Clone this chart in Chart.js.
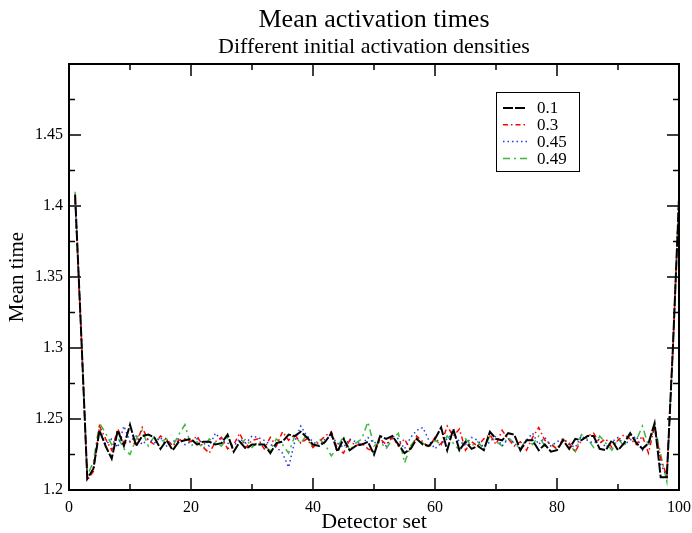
<!DOCTYPE html>
<html>
<head>
<meta charset="utf-8">
<script src="https://cdn.jsdelivr.net/npm/chart.js@4.4.1/dist/chart.umd.min.js"></script>
<style>
  html, body { margin: 0; padding: 0; background: #fff; }
  #wrap { width: 692px; height: 533px; }
</style>
</head>
<body>
<div id="wrap"><canvas id="chart" width="692" height="533"></canvas></div>
<script>
// detector sets 1..100
const detectorSet = Array.from({ length: 100 }, (_, i) => i + 1);

const seriesLabels = ["0.1", "0.3", "0.45", "0.49"];

// mean activation time per detector set
const density01 = [
    1.408, 1.31, 1.208, 1.215, 1.242, 1.231, 1.222, 1.242, 1.231, 1.246,
    1.231, 1.238, 1.239, 1.237, 1.229, 1.235, 1.228, 1.234, 1.235, 1.236,
    1.232, 1.234, 1.234, 1.232, 1.233, 1.239, 1.227, 1.234, 1.229, 1.232,
    1.232, 1.232, 1.226, 1.233, 1.234, 1.239, 1.238, 1.241, 1.237, 1.232,
    1.231, 1.234, 1.240, 1.227, 1.236, 1.228, 1.231, 1.232, 1.234, 1.225,
    1.238, 1.236, 1.238, 1.232, 1.226, 1.229, 1.236, 1.232, 1.231, 1.236,
    1.244, 1.228, 1.243, 1.228, 1.234, 1.229, 1.231, 1.228, 1.241, 1.236,
    1.235, 1.240, 1.239, 1.228, 1.235, 1.235, 1.228, 1.232, 1.227, 1.228,
    1.235, 1.229, 1.236, 1.235, 1.238, 1.238, 1.229, 1.228, 1.235, 1.228,
    1.233, 1.240, 1.233, 1.229, 1.233, 1.247, 1.209, 1.209, 1.30, 1.405
];
const density03 = [
    1.405, 1.31, 1.207, 1.213, 1.245, 1.236, 1.228, 1.243, 1.233, 1.234,
    1.232, 1.244, 1.235, 1.232, 1.238, 1.236, 1.231, 1.235, 1.236, 1.234,
    1.238, 1.230, 1.226, 1.234, 1.237, 1.229, 1.232, 1.240, 1.230, 1.235,
    1.236, 1.229, 1.237, 1.231, 1.241, 1.235, 1.239, 1.233, 1.236, 1.230,
    1.234, 1.238, 1.241, 1.229, 1.226, 1.235, 1.231, 1.233, 1.229, 1.227,
    1.236, 1.232, 1.237, 1.231, 1.236, 1.228, 1.238, 1.234, 1.230, 1.237,
    1.232, 1.245, 1.238, 1.243, 1.228, 1.234, 1.231, 1.236, 1.239, 1.232,
    1.242, 1.236, 1.231, 1.234, 1.228, 1.237, 1.244, 1.235, 1.232, 1.229,
    1.236, 1.233, 1.227, 1.235, 1.238, 1.240, 1.233, 1.236, 1.230, 1.235,
    1.239, 1.236, 1.232, 1.238, 1.226, 1.245, 1.222, 1.210, 1.30, 1.405
];
const density045 = [
    1.405, 1.31, 1.208, 1.215, 1.243, 1.232, 1.236, 1.230, 1.245, 1.234,
    1.238, 1.232, 1.236, 1.233, 1.237, 1.231, 1.234, 1.236, 1.232, 1.234,
    1.236, 1.233, 1.231, 1.240, 1.235, 1.233, 1.231, 1.236, 1.233, 1.238,
    1.237, 1.235, 1.232, 1.230, 1.226, 1.216, 1.234, 1.245, 1.238, 1.234,
    1.231, 1.236, 1.238, 1.233, 1.230, 1.236, 1.234, 1.232, 1.237, 1.233,
    1.235, 1.231, 1.238, 1.236, 1.229, 1.237, 1.242, 1.244, 1.235, 1.229,
    1.233, 1.236, 1.240, 1.234, 1.232, 1.237, 1.235, 1.230, 1.234, 1.238,
    1.231, 1.236, 1.233, 1.229, 1.235, 1.240, 1.232, 1.237, 1.231, 1.234,
    1.236, 1.232, 1.230, 1.238, 1.235, 1.233, 1.236, 1.230, 1.234, 1.237,
    1.232, 1.235, 1.238, 1.228, 1.233, 1.244, 1.218, 1.210, 1.30, 1.405
];
const density049 = [
    1.41, 1.31, 1.210, 1.220, 1.247, 1.240, 1.232, 1.237, 1.229, 1.225,
    1.236, 1.242, 1.231, 1.238, 1.234, 1.236, 1.231, 1.239, 1.246, 1.231,
    1.234, 1.229, 1.236, 1.233, 1.231, 1.237, 1.229, 1.232, 1.236, 1.230,
    1.234, 1.231, 1.228, 1.236, 1.232, 1.226, 1.238, 1.233, 1.239, 1.230,
    1.236, 1.232, 1.224, 1.230, 1.238, 1.228, 1.233, 1.236, 1.248, 1.231,
    1.234, 1.229, 1.236, 1.240, 1.219, 1.231, 1.237, 1.233, 1.230, 1.235,
    1.232, 1.238, 1.233, 1.228, 1.236, 1.231, 1.234, 1.229, 1.238, 1.234,
    1.231, 1.237, 1.233, 1.229, 1.236, 1.232, 1.238, 1.231, 1.234, 1.228,
    1.236, 1.232, 1.227, 1.239, 1.236, 1.230, 1.238, 1.233, 1.228, 1.236,
    1.231, 1.239, 1.235, 1.245, 1.231, 1.246, 1.225, 1.206, 1.30, 1.41
];

// axis ticks
const xMajorTicks = [0, 20, 40, 60, 80, 100];
const xMinorTicks = [10, 30, 50, 70, 90];
const yMajorTicks = [1.2, 1.25, 1.3, 1.35, 1.4, 1.45, 1.5];
const yMinorTicks = [1.225, 1.275, 1.325, 1.375, 1.425, 1.475];

const SERIF = '"Liberation Serif", "Times New Roman", serif';

function toPoints(values) {
    return values.map((v, i) => ({ x: detectorSet[i], y: v }));
}

// frame with inward ticks on all four sides (xmgrace look)
const frameTicks = {
    id: "frameTicks",
    afterDatasetsDraw(chart) {
        const { ctx, chartArea: a, scales } = chart;
        const x = scales.x, y = scales.y;
        ctx.save();
        ctx.strokeStyle = "#000";
        ctx.lineWidth = 2;
        ctx.strokeRect(a.left, a.top, a.right - a.left, a.bottom - a.top);
        ctx.lineWidth = 1.5;
        const tick = (x1, y1, x2, y2) => {
            ctx.beginPath();
            ctx.moveTo(x1, y1);
            ctx.lineTo(x2, y2);
            ctx.stroke();
        };
        xMajorTicks.forEach(v => {
            const px = x.getPixelForValue(v);
            tick(px, a.bottom, px, a.bottom - 12);
            tick(px, a.top, px, a.top + 12);
        });
        xMinorTicks.forEach(v => {
            const px = x.getPixelForValue(v);
            tick(px, a.bottom, px, a.bottom - 6);
            tick(px, a.top, px, a.top + 6);
        });
        yMajorTicks.forEach(v => {
            const py = y.getPixelForValue(v);
            tick(a.left, py, a.left + 12, py);
            tick(a.right, py, a.right - 12, py);
        });
        yMinorTicks.forEach(v => {
            const py = y.getPixelForValue(v);
            tick(a.left, py, a.left + 6, py);
            tick(a.right, py, a.right - 6, py);
        });
        ctx.restore();
    }
};

// boxed legend inside the plot, top right
const legendBox = {
    id: "legendBox",
    afterDraw(chart) {
        const ctx = chart.ctx;
        ctx.save();
        ctx.fillStyle = "#fff";
        ctx.fillRect(496.5, 92.5, 83, 79);
        ctx.strokeStyle = "#000";
        ctx.lineWidth = 1;
        ctx.strokeRect(496.5, 92.5, 83, 79);
        chart.data.datasets.forEach((ds, i) => {
            const ly = 108 + i * 16.8;
            ctx.strokeStyle = ds.borderColor;
            ctx.lineWidth = ds.borderWidth;
            ctx.setLineDash(ds.borderDash || []);
            ctx.beginPath();
            ctx.moveTo(503, ly);
            ctx.lineTo(527, ly);
            ctx.stroke();
            ctx.setLineDash([]);
            ctx.fillStyle = "#000";
            ctx.font = "17px " + SERIF;
            ctx.textBaseline = "middle";
            ctx.textAlign = "left";
            ctx.fillText(ds.label, 537, ly + 1);
        });
        ctx.restore();
    }
};

new Chart(document.getElementById("chart"), {
    type: "line",
    data: {
        datasets: [
            {
                label: seriesLabels[0],
                data: toPoints(density01),
                borderColor: "#000000",
                borderWidth: 2,
                borderDash: [10, 2]
            },
            {
                label: seriesLabels[1],
                data: toPoints(density03),
                borderColor: "#ff0000",
                borderWidth: 1.5,
                borderDash: [5, 3, 1.5, 3]
            },
            {
                label: seriesLabels[2],
                data: toPoints(density045),
                borderColor: "#1f3fe0",
                borderWidth: 1.5,
                borderDash: [1.5, 3]
            },
            {
                label: seriesLabels[3],
                data: toPoints(density049),
                borderColor: "#3cb83c",
                borderWidth: 1.5,
                borderDash: [7, 4, 2, 4]
            }
        ]
    },
    options: {
        responsive: false,
        animation: false,
        layout: { padding: { left: 0, right: 13, top: 0, bottom: 0 } },
        elements: { point: { radius: 0 }, line: { tension: 0, fill: false } },
        plugins: {
            legend: { display: false },
            tooltip: { enabled: false },
            title: {
                display: true,
                fullSize: false,
                text: "Mean activation times",
                color: "#000",
                font: { family: SERIF, size: 26, weight: "normal", lineHeight: 1 },
                padding: { top: 7, bottom: 0 }
            },
            subtitle: {
                display: true,
                fullSize: false,
                text: "Different initial activation densities",
                color: "#000",
                font: { family: SERIF, size: 22, weight: "normal", lineHeight: 1 },
                padding: { top: 3, bottom: 6 }
            }
        },
        scales: {
            x: {
                type: "linear",
                min: 0,
                max: 100,
                grid: { display: false, drawTicks: false },
                border: { display: false },
                ticks: {
                    stepSize: 20,
                    color: "#000",
                    padding: 8,
                    maxRotation: 0,
                    font: { family: SERIF, size: 16 }
                },
                title: {
                    display: true,
                    text: "Detector set",
                    color: "#000",
                    font: { family: SERIF, size: 22, lineHeight: 1 },
                    padding: 0
                },
                afterFit(scale) {
                    scale.height = 43;
                    scale.paddingLeft = 0;
                    scale.paddingRight = 0;
                }
            },
            y: {
                type: "linear",
                min: 1.2,
                max: 1.5,
                grid: { display: false, drawTicks: false },
                border: { display: false },
                ticks: {
                    stepSize: 0.05,
                    color: "#000",
                    padding: 6,
                    font: { family: SERIF, size: 16 },
                    callback: v => (v > 1.49 ? "" : String(Number(v.toFixed(3))))
                },
                title: {
                    display: true,
                    text: "Mean time",
                    color: "#000",
                    font: { family: SERIF, size: 21 },
                    padding: 5
                },
                afterFit(scale) {
                    scale.width = 69;
                    scale.paddingTop = 0;
                    scale.paddingBottom = 0;
                }
            }
        }
    },
    plugins: [frameTicks, legendBox]
});
</script>
</body>
</html>
